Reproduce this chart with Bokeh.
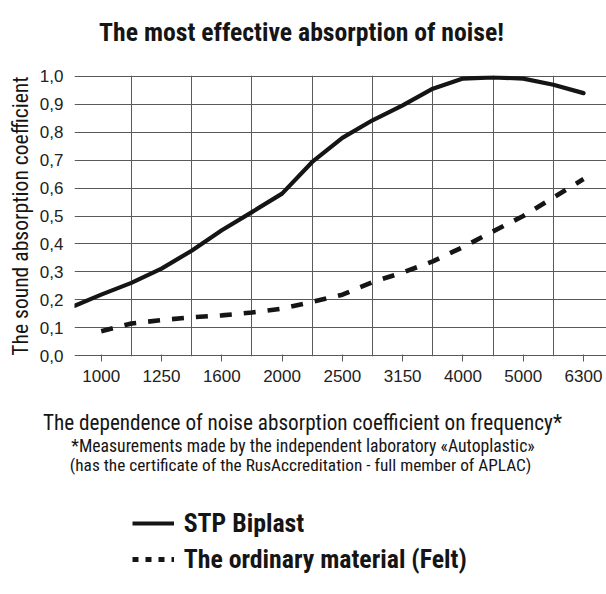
import math
from bokeh.plotting import figure
from bokeh.layouts import column, row
from bokeh.models import (Range1d, FixedTicker, CustomJSTickFormatter, Label,
                          Legend, LegendItem)
from bokeh.embed import file_html
from bokeh.resources import INLINE

# ---------------- data ----------------
frequencies = ["1000", "1250", "1600", "2000", "2500", "3150", "4000", "5000", "6300"]

# positions are category indices (0 = 1000 Hz ... 8 = 6300 Hz)
biplast_x = [-0.44, 0.0, 0.5, 1.0, 1.5, 2.0, 2.5, 3.0, 3.5, 4.0, 4.5, 5.0, 5.5, 6.0, 6.5, 7.0, 7.5, 8.0]
biplast_y = [0.179, 0.219, 0.261, 0.312, 0.376, 0.449, 0.514, 0.580, 0.693, 0.779, 0.842, 0.895,
             0.955, 0.991, 0.995, 0.991, 0.969, 0.939]

felt_x = [0.0, 0.5, 1.0, 1.5, 2.0, 2.5, 3.0, 3.5, 4.0, 4.5, 5.0, 5.5, 6.0, 6.5, 7.0, 7.5, 8.0]
felt_y = [0.088, 0.116, 0.128, 0.138, 0.145, 0.155, 0.169, 0.193, 0.219, 0.264, 0.298, 0.338,
          0.389, 0.445, 0.500, 0.566, 0.632]

y_ticks = [0.0, 0.1, 0.2, 0.3, 0.4, 0.5, 0.6, 0.7, 0.8, 0.9, 1.0]
x_ticks = list(range(len(frequencies)))
x_grid = [i + 0.5 for i in range(len(frequencies) - 1)]

title_text = "The most effective absorption of noise!"
y_title = "The sound absorption coefficient"
x_title = "The dependence of noise absorption coefficient on frequency*"
note1 = "*Measurements made by the independent laboratory \u00abAutoplastic\u00bb"
note2 = "(has the certificate of the RusAccreditation - full member of APLAC)"
legend_labels = ["STP Biplast", "The ordinary material (Felt)"]

NARROW = "Roboto Condensed"
INK = "#151515"
GRID = "#5a5a5a"

# ---------------- layout sizes (px) ----------------
W = 606
TOP_H = 55          # band holding the main title
LEFT_W = 36         # band holding the rotated y title
CHART_H = 341       # chart figure: 20 top + 281 frame + 40 bottom
BOTTOM_H = 594 - TOP_H - CHART_H


def blank(width, height):
    f = figure(width=width, height=height, output_backend="svg", toolbar_location=None,
               x_range=Range1d(0, width), y_range=Range1d(height, 0),
               x_axis_type=None, y_axis_type=None,
               min_border_left=0, min_border_right=0, min_border_top=0, min_border_bottom=0)
    f.outline_line_color = None
    f.background_fill_color = "white"
    return f


# ---------------- chart ----------------
p = figure(width=W - LEFT_W, height=CHART_H, output_backend="svg", toolbar_location=None,
           x_range=Range1d(-0.443, 8.381), y_range=Range1d(-0.002, 1.002),
           min_border_left=74 - LEFT_W, min_border_right=0, min_border_top=20, min_border_bottom=40)
p.outline_line_color = None
p.background_fill_color = "white"

p.xgrid.ticker = FixedTicker(ticks=x_grid)
p.ygrid.ticker = FixedTicker(ticks=y_ticks)
for g in (p.xgrid, p.ygrid):
    g.grid_line_color = GRID
    g.grid_line_width = 1

xa = p.xaxis[0]
xa.ticker = FixedTicker(ticks=x_ticks)
xa.major_label_overrides = {i: f for i, f in enumerate(frequencies)}
xa.axis_line_color = None
xa.major_tick_line_color = GRID
xa.major_tick_in = 2
xa.major_tick_out = 5
xa.minor_tick_line_color = None
xa.major_label_standoff = 8
xa.major_label_text_font = "Liberation Sans"
xa.major_label_text_font_size = "17px"
xa.major_label_text_color = "#222222"

ya = p.yaxis[0]
ya.ticker = FixedTicker(ticks=y_ticks)
ya.formatter = CustomJSTickFormatter(code="return tick.toFixed(1).replace('.', ',');")
ya.axis_line_color = None
ya.major_tick_line_color = None
ya.minor_tick_line_color = None
ya.major_tick_in = 0
ya.major_tick_out = 0
ya.major_label_standoff = 11
ya.major_label_text_font = "Liberation Sans"
ya.major_label_text_font_size = "17px"
ya.major_label_text_color = "#222222"

p.line(biplast_x, biplast_y, line_color=INK, line_width=4.2, line_join="round", line_cap="round")
p.line(felt_x, felt_y, line_color=INK, line_width=4.6, line_dash="12 12")

# ---------------- title band ----------------
top = blank(W, TOP_H)
top.add_layout(Label(x=301, y=31.2, text=title_text, text_font=NARROW, text_font_style="bold",
                     text_font_size="25.7px", text_color=INK,
                     text_align="center", text_baseline="alphabetic"))

# ---------------- y-title band (its frame is aligned with the chart frame) ----------------
left = blank(LEFT_W, CHART_H)
left.add_layout(Label(x=19.5, y=CHART_H / 2.0, text=y_title, text_font=NARROW,
                      text_font_size="21.6px", text_color=INK, angle=math.pi / 2,
                      text_align="center", text_baseline="alphabetic"))

# ---------------- bottom band: x title, notes, legend ----------------
bottom = blank(W, BOTTOM_H)
y0 = TOP_H + CHART_H
bottom.add_layout(Label(x=302, y=421.5 - y0, text=x_title, text_font=NARROW,
                        text_font_size="21.2px", text_color=INK,
                        text_align="center", text_baseline="alphabetic"))
bottom.add_layout(Label(x=302.5, y=445.8 - y0, text=note1, text_font=NARROW,
                        text_font_size="17.7px", text_color=INK,
                        text_align="center", text_baseline="alphabetic"))
bottom.add_layout(Label(x=300, y=464.6 - y0, text=note2, text_font=NARROW,
                        text_font_size="17.3px", text_color=INK,
                        text_align="center", text_baseline="alphabetic"))

# legend proxies: same series, hidden, only used for their legend swatches
leg_solid = bottom.line(biplast_x, biplast_y, line_color=INK, line_width=4.2, visible=False)
leg_dash = bottom.line(felt_x, felt_y, line_color=INK, line_width=5, line_dash="6 7", visible=False)

legend = Legend(items=[LegendItem(label=legend_labels[0], renderers=[leg_solid]),
                       LegendItem(label=legend_labels[1], renderers=[leg_dash])],
                location=(131.7, 19.7), orientation="vertical",
                glyph_width=42, glyph_height=30, label_height=30, spacing=6,
                label_standoff=10, padding=0, margin=0,
                label_text_font=NARROW, label_text_font_style="bold",
                label_text_font_size="25.8px", label_text_color=INK,
                inactive_fill_alpha=0,
                border_line_color=None, background_fill_alpha=0)
bottom.add_layout(legend)

layout = column(top, row(left, p, spacing=0), bottom, spacing=0)
open("out.html", "w").write(file_html(layout, INLINE))
